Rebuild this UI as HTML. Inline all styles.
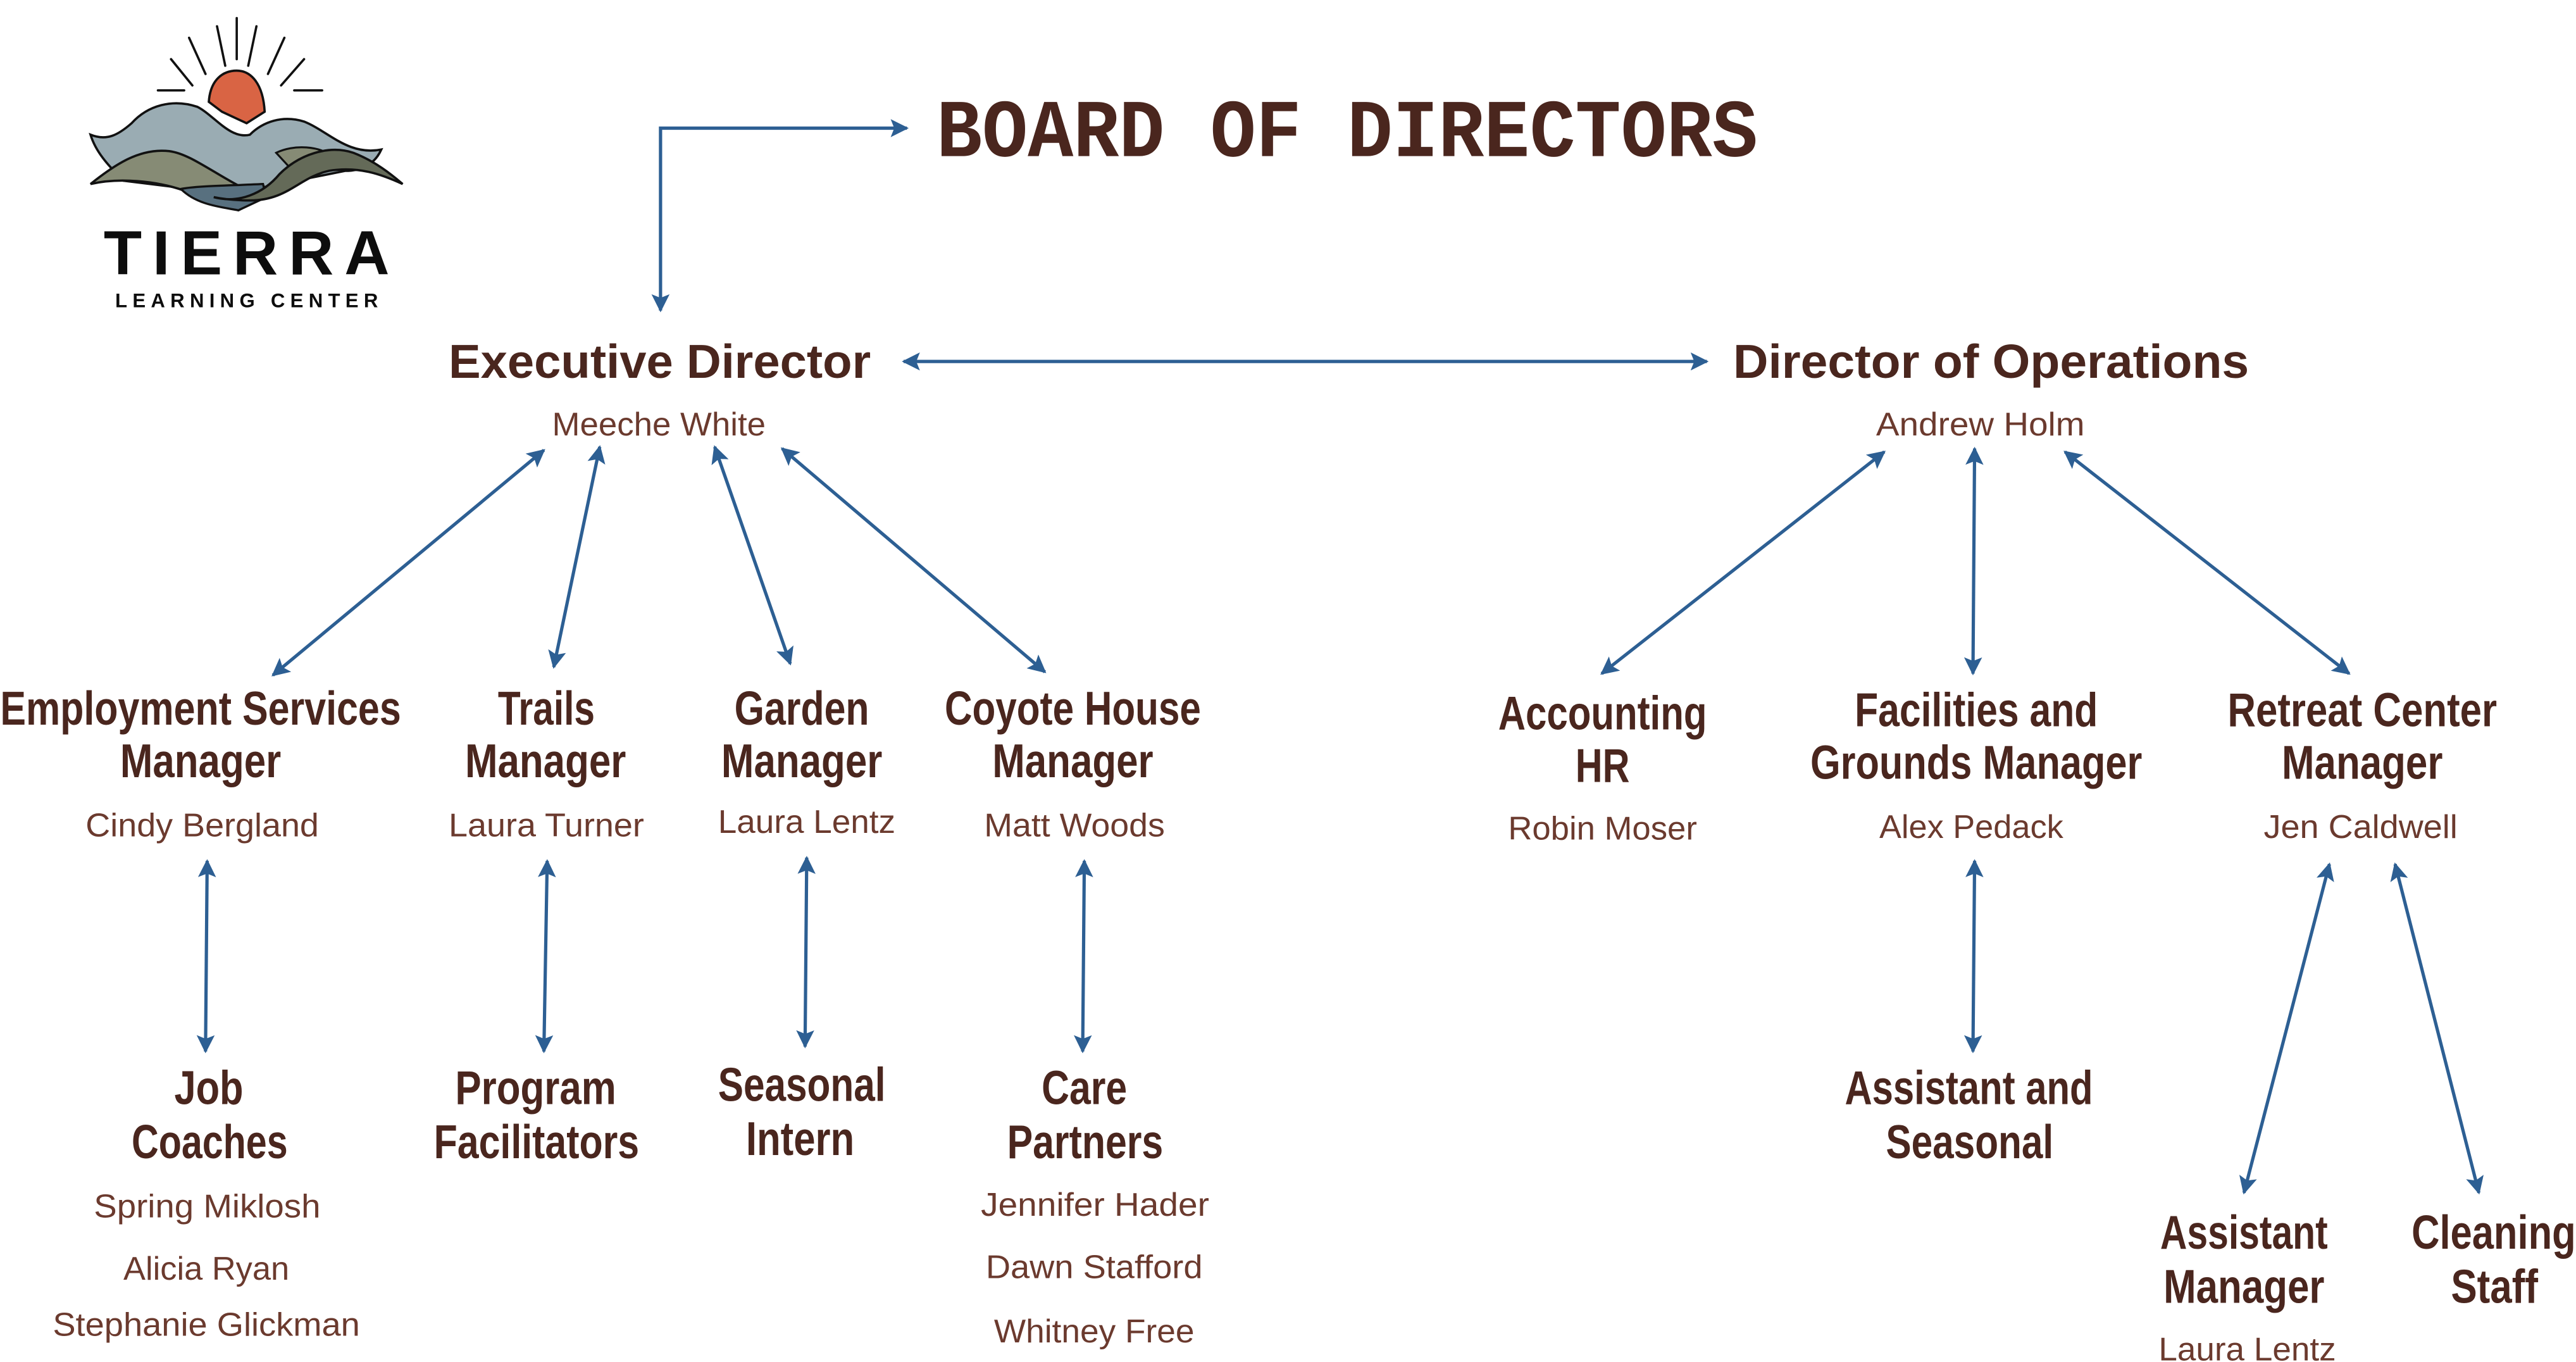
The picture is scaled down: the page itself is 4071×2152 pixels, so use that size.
<!DOCTYPE html>
<html><head><meta charset="utf-8">
<style>
html,body{margin:0;padding:0;background:#fff;}
svg{display:block;}
.t{font-family:"Liberation Sans",sans-serif;font-weight:bold;fill:#4a261e;font-size:29px;}
.n{font-family:"Liberation Sans",sans-serif;fill:#6b3a2e;font-size:20px;}
.a{stroke:#2d5f93;stroke-width:2;fill:none;marker-start:url(#ah);marker-end:url(#ah);}
</style></head>
<body>
<svg width="4071" height="2152" viewBox="0 0 1568 829" xmlns="http://www.w3.org/2000/svg">
<defs>
<marker id="ah" viewBox="0 0 10 10" refX="9" refY="5" markerWidth="5.5" markerHeight="5.5" orient="auto-start-reverse" markerUnits="strokeWidth">
<path d="M0,0 L10,5 L0,10 L2,5 z" fill="#2d5f93"/>
</marker>
</defs>

<!-- Logo -->
<g stroke="#111" stroke-width="1.4" stroke-linecap="round">
<line x1="144" y1="11" x2="144" y2="36"/>
<line x1="132" y1="16" x2="137" y2="40"/>
<line x1="156" y1="16" x2="151" y2="40"/>
<line x1="115" y1="23" x2="125" y2="45"/>
<line x1="173" y1="23" x2="163" y2="45"/>
<line x1="104" y1="36" x2="117" y2="52"/>
<line x1="185" y1="36" x2="171" y2="52"/>
<line x1="96" y1="55" x2="112" y2="55"/>
<line x1="179" y1="55" x2="196" y2="55"/>
</g>
<path d="M127,62 C128,48 136,43 144,43 C152,43 160,50 161,68 L150,75 L135,68 Z" fill="#d96444" stroke="#111" stroke-width="1.4"/>
<path d="M55,82 C65,86 72,82 80,75 C90,64 105,60 120,65 C130,70 140,85 152,82 C160,74 172,70 185,74 C200,80 212,95 232,91 C228,100 220,104 210,104 L170,112 L140,118 L75,110 C65,100 58,92 55,82 Z" fill="#9aacb3" stroke="#111" stroke-width="1.4"/>
<path d="M168,93 C178,88 195,88 205,97 L180,106 Z" fill="#868b75" stroke="#111" stroke-width="1.2"/>
<path d="M55,112 C70,100 85,90 103,92 C118,94 135,110 160,120 L145,128 L112,116 C95,110 72,108 55,112 Z" fill="#868b75" stroke="#111" stroke-width="1.4"/>
<path d="M110,115 C120,113 140,113 160,112 L162,120 L145,128 C135,126 120,125 110,115 Z" fill="#58707f" stroke="#111" stroke-width="1.3"/>
<path d="M130,120 C145,124 160,118 170,106 C182,94 200,88 215,93 C228,98 238,106 245,112 C232,106 218,101 200,104 C182,108 175,122 152,122 C142,122 135,121 130,120 Z" fill="#646a58" stroke="#111" stroke-width="1.4"/>
<text x="63" y="167" font-family="Liberation Sans,sans-serif" font-size="38" font-weight="bold" fill="#0d0d0d" textLength="174" lengthAdjust="spacing">TIERRA</text>
<text x="70" y="187" font-family="Liberation Sans,sans-serif" font-size="12" font-weight="bold" fill="#0d0d0d" textLength="160" lengthAdjust="spacing">LEARNING CENTER</text>

<!-- Board -->
<text x="570" y="95" font-family="Liberation Mono,monospace" font-weight="bold" font-size="50" fill="#4a261e" textLength="500" lengthAdjust="spacingAndGlyphs">BOARD OF DIRECTORS</text>
<polyline points="402,189 402,78 552,78" style="stroke:#2d5f93;stroke-width:2;fill:none;marker-start:url(#ah);marker-end:url(#ah)"/>

<!-- connectors -->
<line class="a" x1="550" y1="220" x2="1039" y2="220"/>
<line class="a" x1="331" y1="274" x2="166" y2="411"/>
<line class="a" x1="365" y1="272" x2="337" y2="406"/>
<line class="a" x1="435" y1="272" x2="481" y2="404"/>
<line class="a" x1="476" y1="273" x2="636" y2="409"/>
<line class="a" x1="1147" y1="275" x2="975" y2="410"/>
<line class="a" x1="1202" y1="273" x2="1201" y2="410"/>
<line class="a" x1="1257" y1="275" x2="1430" y2="410"/>
<line class="a" x1="126" y1="524" x2="125" y2="640"/>
<line class="a" x1="333" y1="524" x2="331" y2="640"/>
<line class="a" x1="491" y1="522" x2="490" y2="637"/>
<line class="a" x1="660" y1="524" x2="659" y2="640"/>
<line class="a" x1="1202" y1="524" x2="1201" y2="640"/>
<line class="a" x1="1418" y1="526" x2="1366" y2="726"/>
<line class="a" x1="1458" y1="526" x2="1509" y2="726"/>

<!-- titles -->
<text class="t" x="273" y="230" textLength="257" lengthAdjust="spacingAndGlyphs">Executive Director</text>
<text class="n" x="336" y="265" textLength="130" lengthAdjust="spacingAndGlyphs">Meeche White</text>
<text class="t" x="1055" y="230" textLength="314" lengthAdjust="spacingAndGlyphs">Director of Operations</text>
<text class="n" x="1142" y="265" textLength="127" lengthAdjust="spacingAndGlyphs">Andrew Holm</text>

<text class="t" x="0" y="441" textLength="244" lengthAdjust="spacingAndGlyphs">Employment Services</text>
<text class="t" x="73" y="473" textLength="98" lengthAdjust="spacingAndGlyphs">Manager</text>
<text class="n" x="52" y="509" textLength="142" lengthAdjust="spacingAndGlyphs">Cindy Bergland</text>

<text class="t" x="303" y="441" textLength="59" lengthAdjust="spacingAndGlyphs">Trails</text>
<text class="t" x="283" y="473" textLength="98" lengthAdjust="spacingAndGlyphs">Manager</text>
<text class="n" x="273" y="509" textLength="119" lengthAdjust="spacingAndGlyphs">Laura Turner</text>

<text class="t" x="447" y="441" textLength="82" lengthAdjust="spacingAndGlyphs">Garden</text>
<text class="t" x="439" y="473" textLength="98" lengthAdjust="spacingAndGlyphs">Manager</text>
<text class="n" x="437" y="507" textLength="108" lengthAdjust="spacingAndGlyphs">Laura Lentz</text>

<text class="t" x="575" y="441" textLength="156" lengthAdjust="spacingAndGlyphs">Coyote House</text>
<text class="t" x="604" y="473" textLength="98" lengthAdjust="spacingAndGlyphs">Manager</text>
<text class="n" x="599" y="509" textLength="110" lengthAdjust="spacingAndGlyphs">Matt Woods</text>

<text class="t" x="912" y="444" textLength="127" lengthAdjust="spacingAndGlyphs">Accounting</text>
<text class="t" x="959" y="476" textLength="33" lengthAdjust="spacingAndGlyphs">HR</text>
<text class="n" x="918" y="511" textLength="115" lengthAdjust="spacingAndGlyphs">Robin Moser</text>

<text class="t" x="1129" y="442" textLength="148" lengthAdjust="spacingAndGlyphs">Facilities and</text>
<text class="t" x="1102" y="474" textLength="202" lengthAdjust="spacingAndGlyphs">Grounds Manager</text>
<text class="n" x="1144" y="510" textLength="112" lengthAdjust="spacingAndGlyphs">Alex Pedack</text>

<text class="t" x="1356" y="442" textLength="164" lengthAdjust="spacingAndGlyphs">Retreat Center</text>
<text class="t" x="1389" y="474" textLength="98" lengthAdjust="spacingAndGlyphs">Manager</text>
<text class="n" x="1378" y="510" textLength="118" lengthAdjust="spacingAndGlyphs">Jen Caldwell</text>

<text class="t" x="106" y="672" textLength="42" lengthAdjust="spacingAndGlyphs">Job</text>
<text class="t" x="80" y="705" textLength="95" lengthAdjust="spacingAndGlyphs">Coaches</text>
<text class="n" x="57" y="741" textLength="138" lengthAdjust="spacingAndGlyphs">Spring Miklosh</text>
<text class="n" x="75" y="779" textLength="101" lengthAdjust="spacingAndGlyphs">Alicia Ryan</text>
<text class="n" x="32" y="813" textLength="187" lengthAdjust="spacingAndGlyphs">Stephanie Glickman</text>

<text class="t" x="277" y="672" textLength="98" lengthAdjust="spacingAndGlyphs">Program</text>
<text class="t" x="264" y="705" textLength="125" lengthAdjust="spacingAndGlyphs">Facilitators</text>

<text class="t" x="437" y="670" textLength="102" lengthAdjust="spacingAndGlyphs">Seasonal</text>
<text class="t" x="454" y="703" textLength="66" lengthAdjust="spacingAndGlyphs">Intern</text>

<text class="t" x="634" y="672" textLength="52" lengthAdjust="spacingAndGlyphs">Care</text>
<text class="t" x="613" y="705" textLength="95" lengthAdjust="spacingAndGlyphs">Partners</text>
<text class="n" x="597" y="740" textLength="139" lengthAdjust="spacingAndGlyphs">Jennifer Hader</text>
<text class="n" x="600" y="778" textLength="132" lengthAdjust="spacingAndGlyphs">Dawn Stafford</text>
<text class="n" x="605" y="817" textLength="122" lengthAdjust="spacingAndGlyphs">Whitney Free</text>

<text class="t" x="1123" y="672" textLength="151" lengthAdjust="spacingAndGlyphs">Assistant and</text>
<text class="t" x="1148" y="705" textLength="102" lengthAdjust="spacingAndGlyphs">Seasonal</text>

<text class="t" x="1315" y="760" textLength="102" lengthAdjust="spacingAndGlyphs">Assistant</text>
<text class="t" x="1317" y="793" textLength="98" lengthAdjust="spacingAndGlyphs">Manager</text>
<text class="n" x="1314" y="828" textLength="108" lengthAdjust="spacingAndGlyphs">Laura Lentz</text>

<text class="t" x="1468" y="760" textLength="100" lengthAdjust="spacingAndGlyphs">Cleaning</text>
<text class="t" x="1492" y="793" textLength="53" lengthAdjust="spacingAndGlyphs">Staff</text>
</svg>
</body></html>
